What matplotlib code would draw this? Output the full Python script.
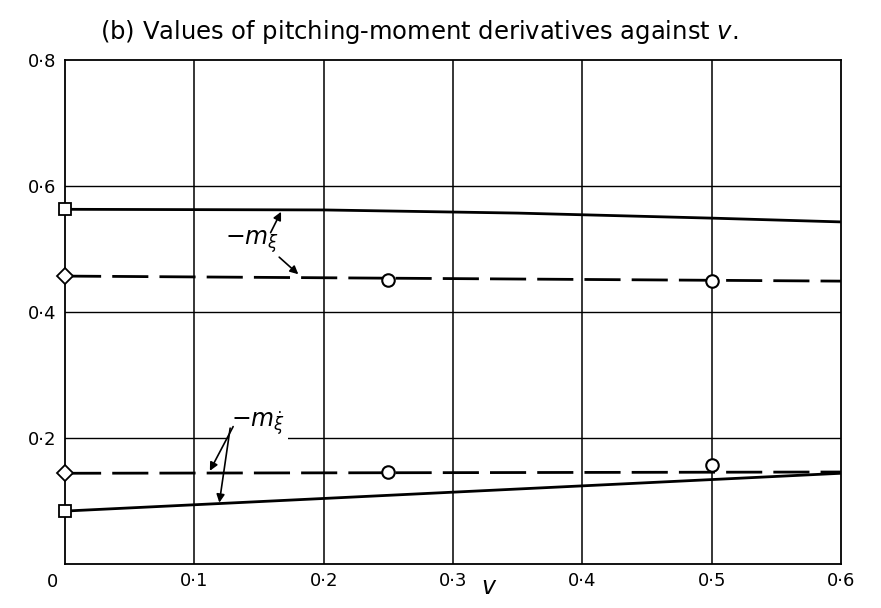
import numpy as np
import matplotlib
matplotlib.use("Agg")
import matplotlib.pyplot as plt

# values
v_solid = [0.0, 0.2, 0.35, 0.5, 0.6]
m_xi_solid = [0.563, 0.562, 0.557, 0.549, 0.543]
v_dash = [0.0, 0.6]
m_xi_dash = [0.457, 0.449]
v_xidot_solid = [0.0, 0.6]
m_xidot_solid = [0.084, 0.144]
m_xidot_dash = [0.144, 0.146]

# experimental points
v_pts = [0.25, 0.5]
m_xi_pts = [0.451, 0.449]
m_xidot_pts = [0.146, 0.157]

# values at v = 0 (squares: solid curves, diamonds: dashed curves)
sq_vals = [0.563, 0.084]
dia_vals = [0.457, 0.144]

xticks = [0, 0.1, 0.2, 0.3, 0.4, 0.5, 0.6]
xlabels = ["", "0·1", "0·2", "0·3", "0·4", "0·5", "0·6"]
yticks = [0.2, 0.4, 0.6, 0.8]
ylabels = ["0·2", "0·4", "0·6", "0·8"]

fig = plt.figure(figsize=(8.81, 6.08), dpi=100)
ax = fig.add_axes([0.0738, 0.0724, 0.8808, 0.8289])
ax.set_xlim(0, 0.6)
ax.set_ylim(0, 0.8)

for x in xticks[1:-1]:
    ax.axvline(x, color="black", lw=1.1, zorder=1)
for y in yticks[:-1]:
    ax.axhline(y, color="black", lw=1.0, zorder=1)

dash = (0, (13, 4))
ax.plot(v_solid, m_xi_solid, color="black", lw=2, zorder=2)
ax.plot(v_dash, m_xi_dash, color="black", lw=2, ls=dash, zorder=2)
ax.plot(v_xidot_solid, m_xidot_solid, color="black", lw=2, zorder=2)
ax.plot(v_dash, m_xidot_dash, color="black", lw=2, ls=dash, zorder=2)

ax.plot(v_pts, m_xi_pts, "o", ms=9, mfc="white", mec="black", mew=1.5, ls="none", zorder=4)
ax.plot(v_pts, m_xidot_pts, "o", ms=9, mfc="white", mec="black", mew=1.5, ls="none", zorder=4)
ax.plot([0, 0], sq_vals, "s", ms=8, mfc="white", mec="black", mew=1.3, ls="none",
        zorder=5, clip_on=False)
ax.plot([0, 0], dia_vals, "D", ms=8, mfc="white", mec="black", mew=1.3, ls="none",
        zorder=5, clip_on=False)

for s in ax.spines.values():
    s.set_linewidth(1.3)

ax.set_xticks(xticks)
ax.set_xticklabels(xlabels, fontsize=13)
ax.set_yticks(yticks)
ax.set_yticklabels(ylabels, fontsize=13)
ax.tick_params(length=0, pad=6)
ax.text(-0.01, -0.015, "0", fontsize=13, ha="center", va="top")

ax.text(0.328, -0.018, "$v$", fontsize=17, ha="center", va="top")
ax.text(0.027, 0.845, "(b) Values of pitching-moment derivatives against $v$.",
        fontsize=17.5, ha="left", va="center")

arrow = dict(arrowstyle="-|>", color="black", lw=1.2, mutation_scale=12)
# upper label
ax.text(0.124, 0.512, r"$-m_{\xi}$", fontsize=17, ha="left", va="center",
        bbox=dict(fc="white", ec="none", pad=1), zorder=3)
ax.annotate("", xy=(0.168, 0.563), xytext=(0.158, 0.522), arrowprops=arrow, zorder=3)
ax.annotate("", xy=(0.182, 0.457), xytext=(0.164, 0.49), arrowprops=arrow, zorder=3)
# lower label
ax.text(0.128, 0.222, r"$-m_{\dot{\xi}}$", fontsize=17, ha="left", va="center",
        bbox=dict(fc="white", ec="none", pad=2), zorder=3)
ax.annotate("", xy=(0.111, 0.144), xytext=(0.131, 0.222), arrowprops=arrow, zorder=3)
ax.annotate("", xy=(0.119, 0.093), xytext=(0.128, 0.22), arrowprops=arrow, zorder=3)

fig.savefig("out.png", dpi=100)
